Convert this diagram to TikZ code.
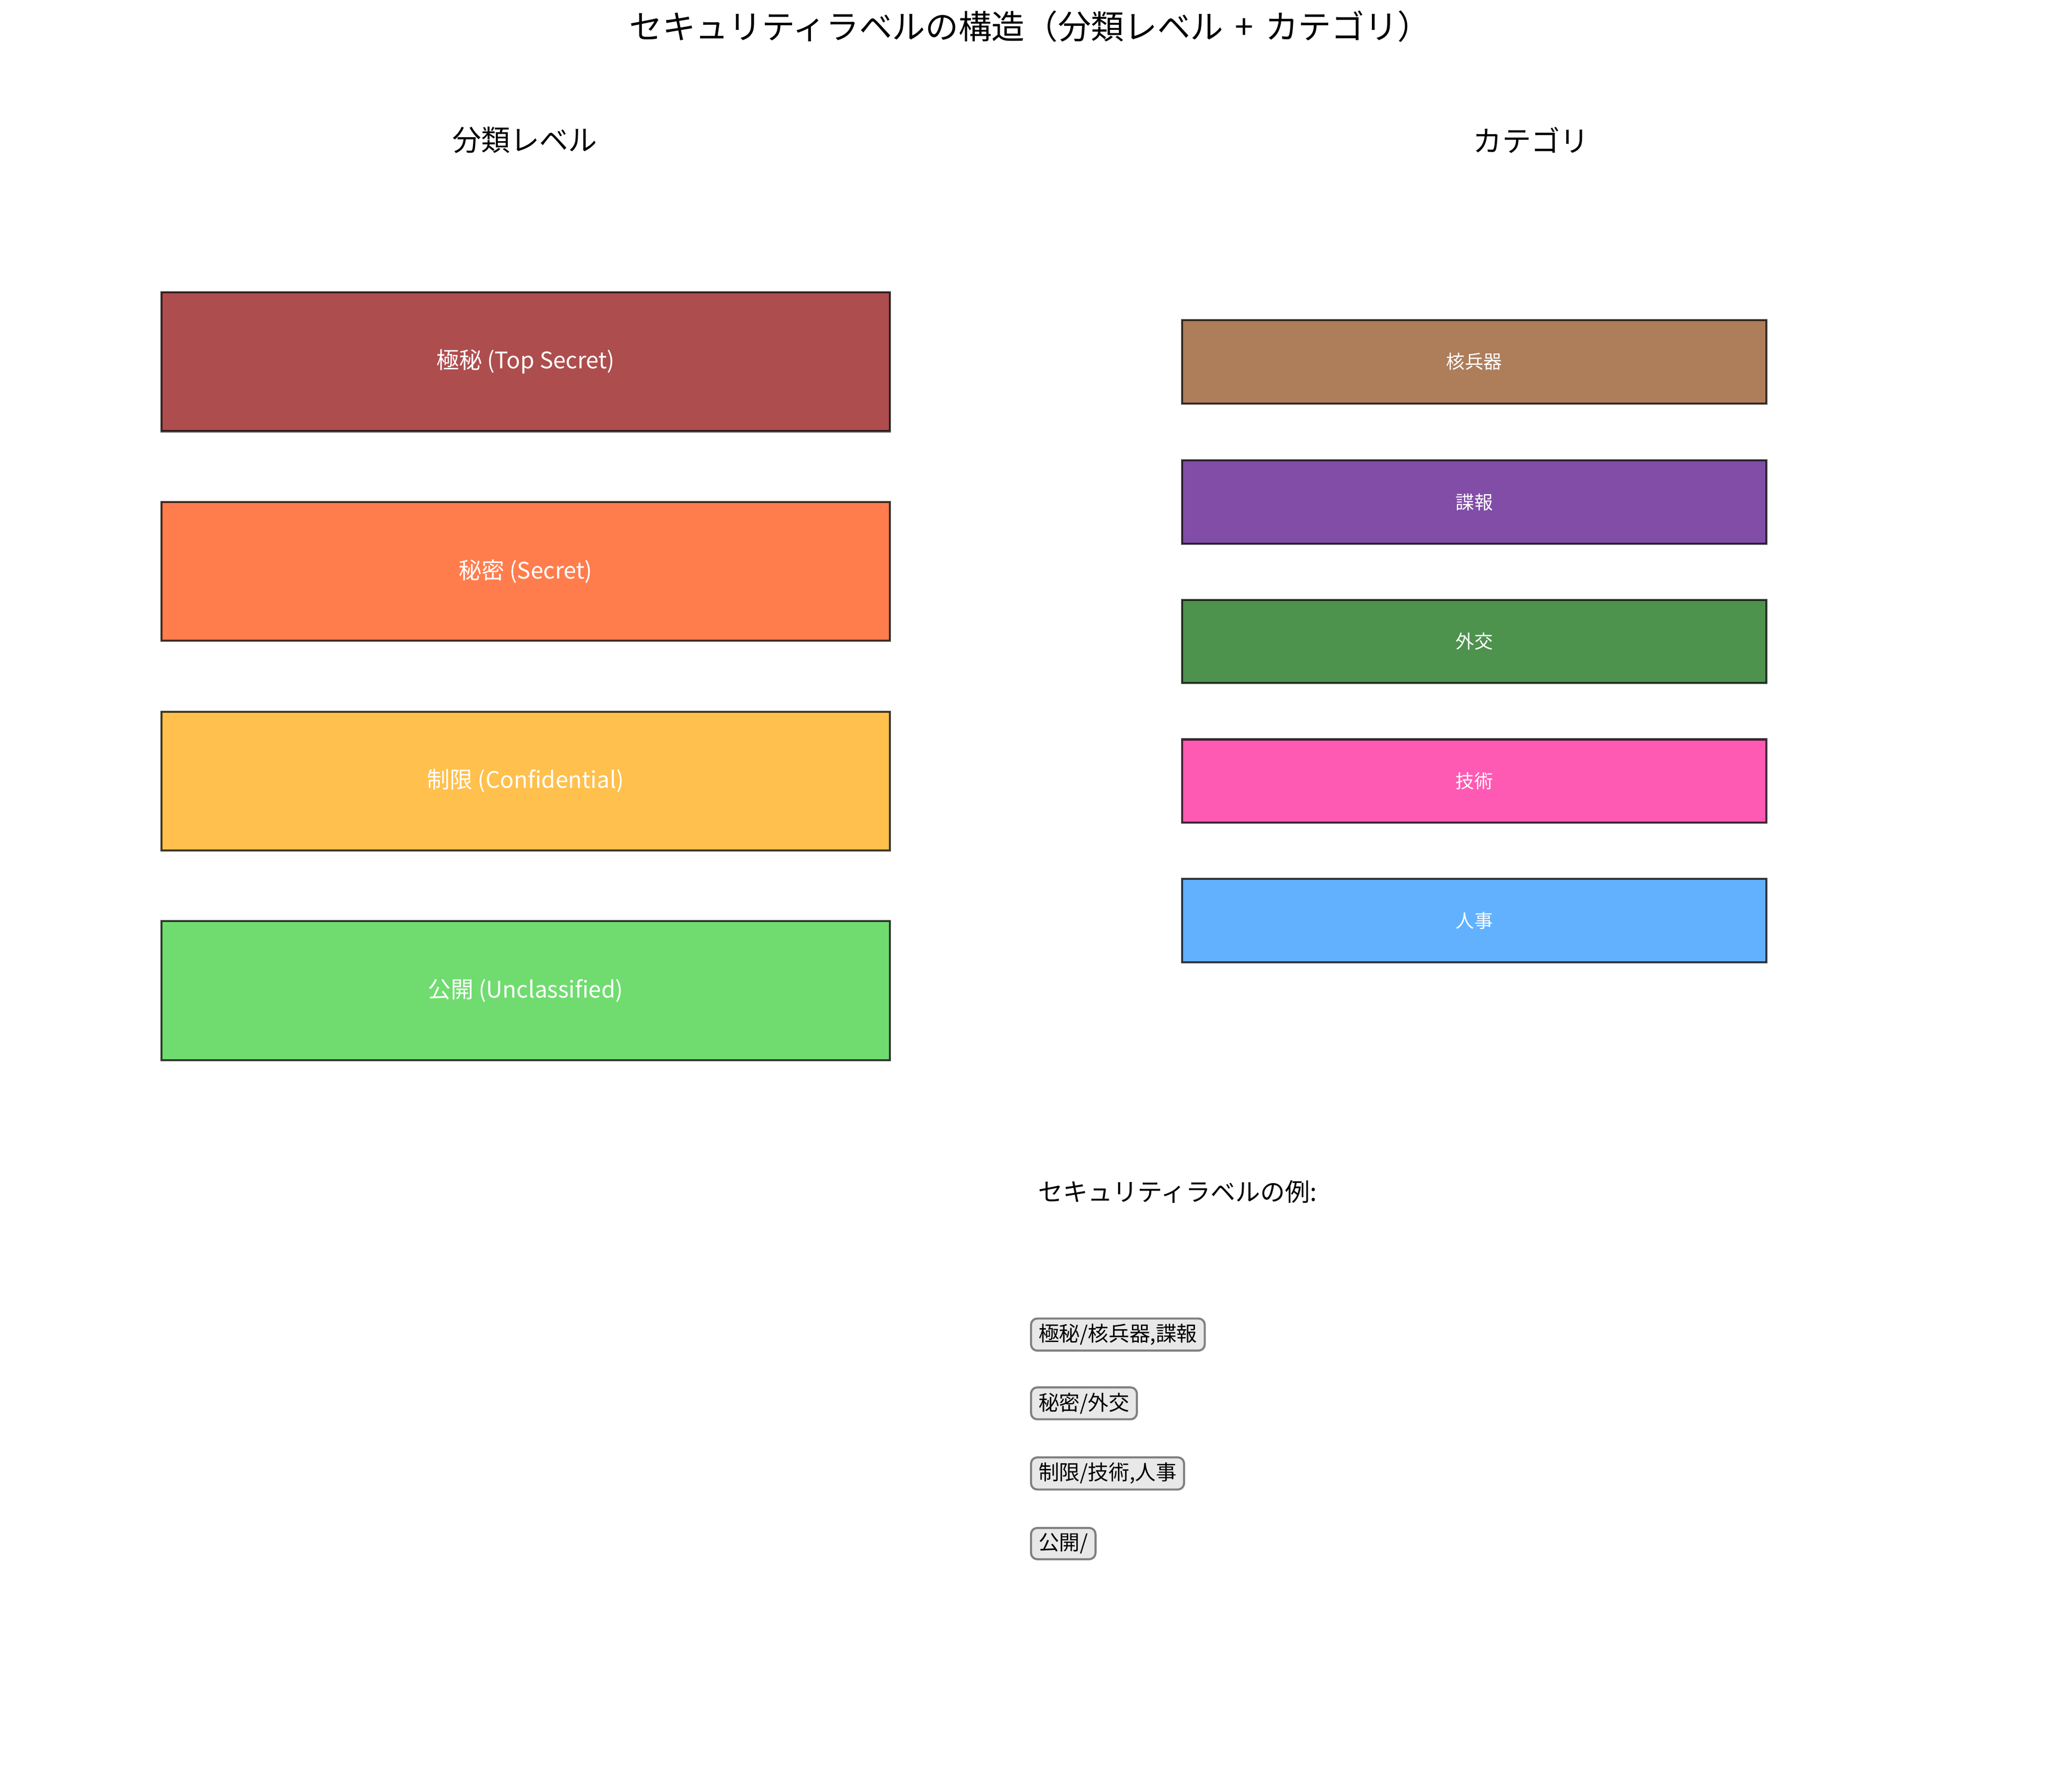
\documentclass[tikz,border=0pt]{standalone}
\usepackage{fontspec}
\setmainfont{Noto Sans CJK JP}
\begin{document}
\begin{tikzpicture}[x=0.6386pt,y=-0.6386pt,
  lvbox/.style={draw=black,draw opacity=0.75,line width=1pt,minimum width=551*0.6386pt,minimum height=105*0.6386pt,inner sep=0pt,text=white,font=\fontsize{11}{13}\selectfont},
  catbox/.style={draw=black,draw opacity=0.75,line width=1pt,minimum width=442*0.6386pt,minimum height=63*0.6386pt,inner sep=0pt,text=white,font=\fontsize{9}{11}\selectfont},
  exbox/.style={draw=gray,fill=exfill,line width=1pt,rounded corners=3pt,inner xsep=3.6pt,inner ysep=2.6pt,anchor=west,font=\fontsize{10}{12}\selectfont},
  hdr/.style={font=\fontsize{14}{16}\selectfont}]
\definecolor{c1}{HTML}{AE4D4D}
\definecolor{c2}{HTML}{FF7D4D}
\definecolor{c3}{HTML}{FFC04D}
\definecolor{c4}{HTML}{70DC70}
\definecolor{k1}{HTML}{AE7D5A}
\definecolor{k2}{HTML}{814DA7}
\definecolor{k3}{HTML}{4D924D}
\definecolor{k4}{HTML}{FF5AB3}
\definecolor{k5}{HTML}{61B1FF}
\definecolor{exfill}{HTML}{E8E8E8}
\useasboundingbox[fill=white] (0,0) rectangle (1567.1,1340.9);
\node[font=\fontsize{16}{18}\selectfont] (title) at (779,20) {セキュリティラベルの構造（分類レベル\hspace{0.35em}+\hspace{0.35em}カテゴリ）};
\node[hdr] (hl) at (397,106) {分類レベル};
\node[hdr] (hc) at (1158,106) {カテゴリ};
\node[lvbox,fill=c1] (l1) at (397.5,273.5) {極秘 (Top Secret)};
\node[lvbox,fill=c2] (l2) at (397.5,432) {秘密 (Secret)};
\node[lvbox,fill=c3] (l3) at (397.5,590.5) {制限 (Confidential)};
\node[lvbox,fill=c4] (l4) at (397.5,749) {公開 (Unclassified)};
\node[catbox,fill=k1] (k1n) at (1115,273.5) {核兵器};
\node[catbox,fill=k2] (k2n) at (1115,379.5) {諜報};
\node[catbox,fill=k3] (k3n) at (1115,485) {外交};
\node[catbox,fill=k4] (k4n) at (1115,590.5) {技術};
\node[catbox,fill=k5] (k5n) at (1115,696) {人事};
\node[anchor=west,inner sep=0pt,font=\fontsize{12}{14}\selectfont] (exh) at (785,901) {セキュリティラベルの例:};
\node[exbox] (e1) at (779,1009) {極秘/核兵器,諜報};
\node[exbox] (e2) at (779,1061) {秘密/外交};
\node[exbox] (e3) at (779,1114) {制限/技術,人事};
\node[exbox] (e4) at (779,1167) {公開/};
\end{tikzpicture}
\end{document}
